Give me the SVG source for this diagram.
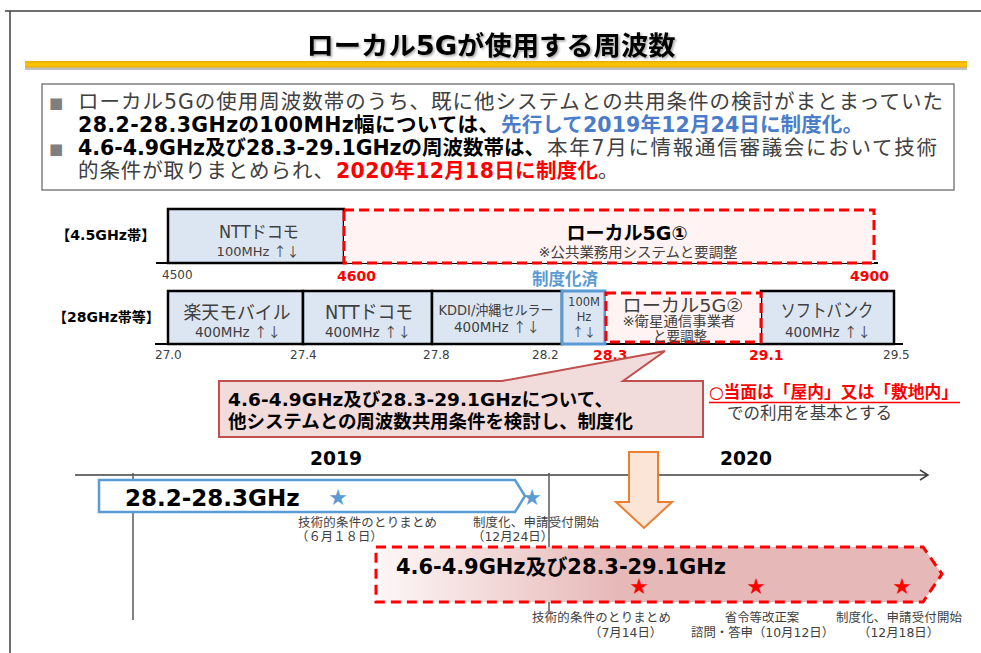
<svg xmlns="http://www.w3.org/2000/svg" width="981" height="653" viewBox="0 0 981 653">
<defs>
<style>
.f{font-family:"DejaVu Sans","Noto Sans CJK JP",sans-serif;}
.cj{font-family:"Noto Sans CJK JP",sans-serif;}
.b{font-weight:bold;}
.g{fill:#404040;}
.k{fill:#000;}
.r{fill:#ff0000;}
.box{fill:#dce6f2;stroke:#000;stroke-width:2.5;}
.dash{fill:#fff3f3;stroke:#ff0000;stroke-width:3;stroke-dasharray:10 5;}
.axis{stroke:#000;stroke-width:2;fill:none;}
.vl{stroke:#595959;stroke-width:1.5;fill:none;}
.sm{font-size:12.4px;}
.mid{text-anchor:middle;}
.star{font-family:"Noto Sans CJK JP",sans-serif;font-size:18px;text-anchor:middle;}
</style>
<linearGradient id="gold" x1="0" y1="0" x2="0" y2="1">
<stop offset="0" stop-color="#e8a900"/>
<stop offset="0.5" stop-color="#ffc800"/>
<stop offset="1" stop-color="#f0b000"/>
</linearGradient>
<linearGradient id="pink" gradientUnits="userSpaceOnUse" x1="376" y1="0" x2="942" y2="0">
<stop offset="0" stop-color="#fdf7f7"/>
<stop offset="0.43" stop-color="#e6b8b7"/>
<stop offset="1" stop-color="#e6b8b7"/>
</linearGradient>
<filter id="sh" x="-5%" y="-20%" width="110%" height="150%">
<feDropShadow dx="1.5" dy="1.5" stdDeviation="0.8" flood-color="#000" flood-opacity="0.35"/>
</filter>
</defs>

<g id="frame">
<path d="M5,11 H981 M10,11 V653" stroke="#404040" stroke-width="1.5" fill="none"/>
</g>

<g id="title">
<text class="f b k mid" x="491" y="55" font-size="26" textLength="369" lengthAdjust="spacingAndGlyphs" filter="url(#sh)">ローカル5Gが使用する周波数</text>
<rect x="25" y="67" width="942" height="3" fill="#bfbfbf"/>
<rect x="25" y="61" width="942" height="6.5" fill="url(#gold)"/>
</g>

<g id="intro">
<rect x="42" y="84" width="912" height="106" fill="#fff" stroke="#7f7f7f" stroke-width="1.5"/>
<text class="f" x="49" y="108" font-size="15" fill="#7f7f7f">■</text>
<text class="f g" x="78" y="109" font-size="20.5" textLength="865">ローカル5Gの使用周波数帯のうち、既に他システムとの共用条件の検討がまとまっていた</text>
<text class="f b k" x="78" y="132" font-size="20.5" textLength="421">28.2-28.3GHzの100MHz幅については、</text>
<text class="f b" x="501" y="132" font-size="20.5" fill="#4a7cc9" textLength="362">先行して2019年12月24日に制度化。</text>
<text class="f" x="49" y="154" font-size="15" fill="#7f7f7f">■</text>
<text class="f b k" x="78" y="155" font-size="20.5" textLength="467">4.6-4.9GHz及び28.3-29.1GHzの周波数帯は、</text>
<text class="f g" x="547" y="155" font-size="20.5" textLength="390">本年7月に情報通信審議会において技術</text>
<text class="f g" x="78" y="178" font-size="20.5" textLength="256">的条件が取りまとめられ、</text>
<text class="f b r" x="336" y="178" font-size="20.5" textLength="262">2020年12月18日に制度化</text>
<text class="f g" x="598" y="178" font-size="20.5">。</text>
</g>

<g id="band45">
<text class="f b k" x="56" y="240" font-size="14.2">【4.5GHz帯】</text>
<path class="axis" d="M156,263 H878"/>
<g id="n45-docomo">
<rect class="box" x="168" y="209" width="176" height="54"/>
<text class="f g mid" x="259" y="238" font-size="17.5" textLength="80" lengthAdjust="spacingAndGlyphs">NTTドコモ</text>
<text class="f g mid" x="258" y="256" font-size="13">100MHz <tspan class="cj">↑↓</tspan></text>
</g>
<g id="n45-local5g1">
<rect class="dash" x="344" y="210" width="530" height="53"/>
<text class="f b k mid" x="627" y="240" font-size="19" textLength="121" lengthAdjust="spacingAndGlyphs">ローカル5G①</text>
<text class="f g mid" x="638" y="256.5" font-size="14" textLength="199" lengthAdjust="spacingAndGlyphs">※公共業務用システムと要調整</text>
</g>
<text class="f g" x="162" y="278.5" font-size="12">4500</text>
<text class="f b r" x="337" y="280.5" font-size="14">4600</text>
<text class="f b r" x="850" y="281" font-size="14">4900</text>
<text class="f b" x="532" y="285" font-size="16.5" fill="#5b9bd5">制度化済</text>
</g>

<g id="band28">
<text class="f b k" x="53" y="322" font-size="14">【28GHz帯等】</text>
<path class="axis" d="M155,344 H903"/>
<g id="n28-rakuten">
<rect class="box" x="168" y="291" width="135" height="53"/>
<text class="f g mid" x="237" y="318.5" font-size="18.5" textLength="107" lengthAdjust="spacingAndGlyphs">楽天モバイル</text>
<text class="f g mid" x="238" y="336.5" font-size="13.5">400MHz <tspan class="cj">↑↓</tspan></text>
</g>
<g id="n28-docomo">
<rect class="box" x="303" y="291" width="129" height="53"/>
<text class="f g mid" x="369" y="318.5" font-size="19" textLength="88" lengthAdjust="spacingAndGlyphs">NTTドコモ</text>
<text class="f g mid" x="368" y="336.5" font-size="13.5">400MHz <tspan class="cj">↑↓</tspan></text>
</g>
<g id="n28-kddi">
<rect class="box" x="432" y="291" width="130" height="53"/>
<text class="f g mid" x="496" y="315" font-size="13.5" textLength="115" lengthAdjust="spacingAndGlyphs">KDDI/沖縄セルラー</text>
<text class="f g mid" x="497" y="331.5" font-size="13.5">400MHz <tspan class="cj">↑↓</tspan></text>
</g>
<g id="n28-100m">
<rect x="562" y="291" width="43" height="53" fill="#dce6f2" stroke="#5b9bd5" stroke-width="3"/>
<text class="f g mid" x="584" y="306" font-size="11.5">100M</text>
<text class="f g mid" x="584" y="321" font-size="11.5">Hz</text>
<text class="cj g mid" x="584" y="337" font-size="12">↑↓</text>
</g>
<g id="n28-softbank">
<rect class="box" x="761" y="291" width="133" height="53"/>
<text class="f g mid" x="827" y="317" font-size="18.5" textLength="93" lengthAdjust="spacingAndGlyphs">ソフトバンク</text>
<text class="f g mid" x="828" y="336.5" font-size="13.5">400MHz <tspan class="cj">↑↓</tspan></text>
</g>
<g id="n28-local5g2">
<rect class="dash" x="606" y="293" width="155" height="49"/>
<text class="f g mid" x="683" y="311.5" font-size="18.5" textLength="121" lengthAdjust="spacingAndGlyphs">ローカル5G②</text>
<text class="f g mid" x="679" y="326" font-size="13.5" textLength="113" lengthAdjust="spacingAndGlyphs">※衛星通信事業者</text>
<text class="f g mid" x="680" y="340.5" font-size="13.5">と要調整</text>
</g>
<text class="f g" x="155" y="359" font-size="12">27.0</text>
<text class="f g" x="290" y="359" font-size="12">27.4</text>
<text class="f g" x="423" y="359" font-size="12">27.8</text>
<text class="f g" x="532" y="359" font-size="12">28.2</text>
<text class="f g" x="883" y="359" font-size="12">29.5</text>
<text class="f b r" x="593" y="360" font-size="14">28.3</text>
<text class="f b r" x="749" y="360" font-size="14">29.1</text>
</g>

<g id="callout">
<path d="M219,381 H502 L665,351 L623,381 H703 V437 H219 Z" fill="#f2dcdb" stroke="#c0504d" stroke-width="2"/>
<text class="f b k" x="228" y="406" font-size="18.5" textLength="385">4.6-4.9GHz及び28.3-29.1GHzについて、</text>
<text class="f b k" x="228" y="428" font-size="18.5" textLength="405">他システムとの周波数共用条件を検討し、制度化</text>
</g>

<g id="note">
<text class="f b r" x="709" y="398" font-size="16.5" textLength="249" lengthAdjust="spacingAndGlyphs">○当面は「屋内」又は「敷地内」</text>
<path d="M709,402.5 H960" stroke="#ff0000" stroke-width="1.5"/>
<text class="f g" x="727" y="419" font-size="16.5" textLength="165">での利用を基本とする</text>
</g>

<g id="connectors">
<path d="M75,475 H928 M920,470 L928,475 L920,480" stroke="#404040" stroke-width="1.5" fill="none"/>
<path class="vl" d="M133,473 V620"/>
<path class="vl" d="M549,473 V614"/>
<path id="down-arrow" d="M629,452 H658 V502 H672 L644,528 L616,502 H629 Z" fill="#fbe5d6" stroke="#ed7d31" stroke-width="2"/>
</g>

<g id="years">
<text class="f b k" x="310" y="465" font-size="18.7">2019</text>
<text class="f b k" x="720" y="465" font-size="18.7">2020</text>
</g>

<g id="tl-2019">
<path d="M99,480 H515 L525,496 L515,512 H99 Z" fill="#fff" stroke="#5b9bd5" stroke-width="2.5"/>
<text class="f b k" x="125" y="506" font-size="23">28.2-28.3GHz</text>
<text class="star" x="338" y="503.5" fill="#5b9bd5">★</text>
<text class="star" x="532" y="503.5" fill="#5b9bd5">★</text>
<text class="f g sm" x="298" y="527" textLength="139">技術的条件のとりまとめ</text>
<text class="f g sm" x="296" y="541">（６月１８日）</text>
<text class="f g sm" x="473" y="527" textLength="126">制度化、申請受付開始</text>
<text class="f g sm" x="472" y="541">（12月24日）</text>
</g>

<g id="tl-2020">
<path d="M376,547 H923 L942,574 L923,602 H376 Z" fill="url(#pink)" stroke="#ff0000" stroke-width="3" stroke-dasharray="10 6"/>
<text class="f b k" x="396" y="574" font-size="21" textLength="330">4.6-4.9GHz及び28.3-29.1GHz</text>
<text class="star r" x="639" y="593">★</text>
<text class="star r" x="756" y="593">★</text>
<text class="star r" x="902" y="593">★</text>
<text class="f g sm" x="532" y="622" textLength="139">技術的条件のとりまとめ</text>
<text class="f g sm" x="589" y="637">（7月14日）</text>
<text class="f g sm mid" x="762" y="622">省令等改正案</text>
<text class="f g sm" x="691" y="637">諮問・答申（10月12日）</text>
<text class="f g sm" x="836" y="622" textLength="126">制度化、申請受付開始</text>
<text class="f g sm" x="858" y="637">（12月18日）</text>
</g>
</svg>
